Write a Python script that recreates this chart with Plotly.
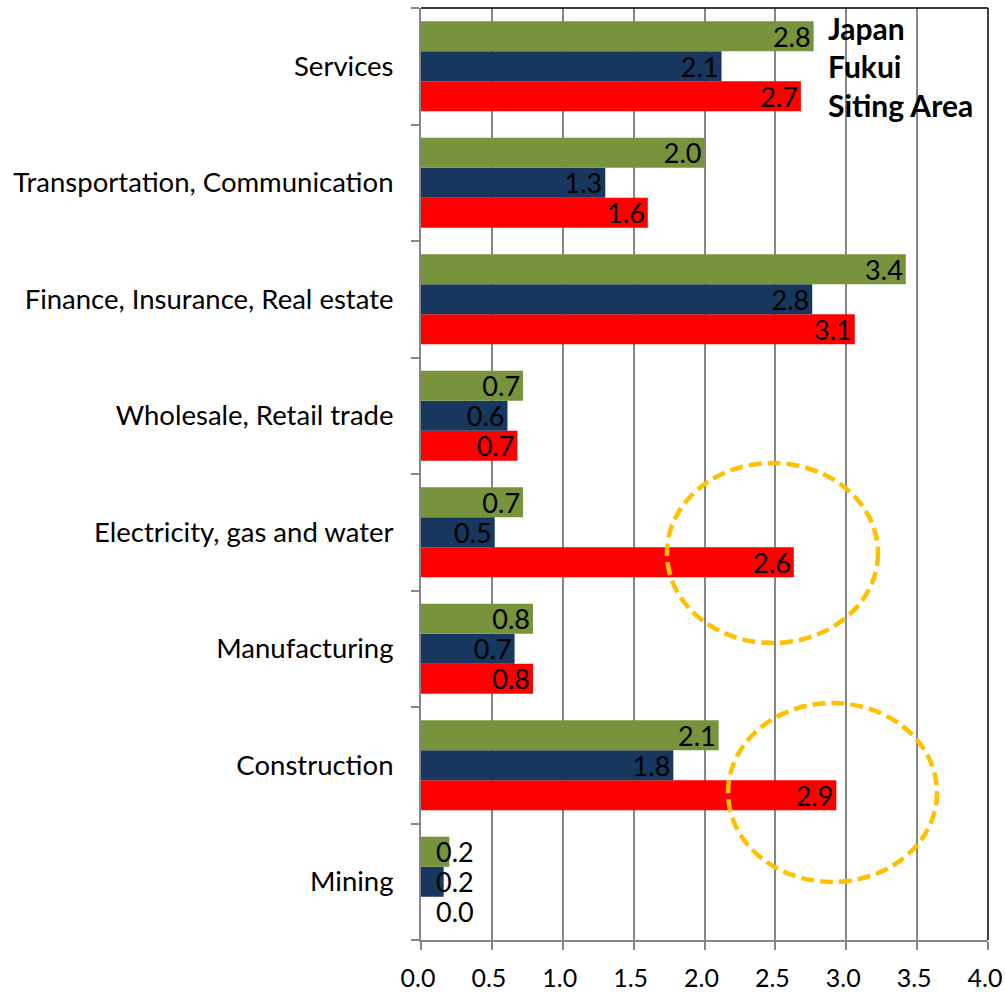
import plotly.graph_objects as go

# Industry categories, listed bottom to top on the y axis
categories = [
    "Mining",
    "Construction",
    "Manufacturing",
    "Electricity, gas and water",
    "Wholesale, Retail trade",
    "Finance, Insurance, Real estate",
    "Transportation, Communication",
    "Services",
]

# Specialisation coefficients per region
japan = [0.20, 2.10, 0.79, 0.72, 0.72, 3.42, 2.00, 2.77]
fukui = [0.16, 1.78, 0.66, 0.52, 0.61, 2.76, 1.30, 2.12]
siting_area = [0.00, 2.93, 0.79, 2.63, 0.68, 3.06, 1.60, 2.68]

series_names = ["Japan", "Fukui", "Siting Area"]
colors = {"Japan": "#77933C", "Fukui": "#17375E", "Siting Area": "#FF0000"}

x_ticks = [0.0, 0.5, 1.0, 1.5, 2.0, 2.5, 3.0, 3.5, 4.0]

FONT = "Lato, 'Open Sans', sans-serif"
LABEL_SIZE = 27

fig = go.Figure()

# Horizontal bars: the first trace sits lowest within each group.
# Bars too short to hold their label get the label drawn separately below.
series = [("Siting Area", siting_area, -30), ("Fukui", fukui, 0), ("Japan", japan, 30)]
for name, vals, offset in series:
    positions = ["none" if v < 0.3 else "inside" for v in vals]
    fig.add_trace(go.Bar(
        y=categories,
        x=vals,
        name=name,
        orientation="h",
        marker=dict(color=colors[name], line=dict(width=0)),
        text=[f"{v:.1f}" for v in vals],
        textposition=positions,
        insidetextanchor="end",
        constraintext="none",
        textfont=dict(family=FONT, size=LABEL_SIZE, color="black"),
        showlegend=False,
    ))
    for cat, v in zip(categories, vals):
        if v < 0.3:
            fig.add_annotation(x=0, y=cat, xref="x", yref="y", text=f"{v:.1f}",
                               showarrow=False, xanchor="left", yanchor="middle",
                               xshift=13, yshift=offset,
                               font=dict(family=FONT, size=LABEL_SIZE, color="black"))

# Dashed highlight ellipses around the Siting Area outliers
for x0, x1, y0, y1 in [(1.735, 3.224, 2.049, 3.594), (2.166, 3.640, -0.002, 1.534)]:
    fig.add_shape(type="circle", xref="x", yref="y", x0=x0, x1=x1, y0=y0, y1=y1,
                  line=dict(color="#FFC000", width=4.5, dash="13px,6px"), layer="above")

# Dark frame on the top and right edges of the plot area
fig.add_shape(type="line", xref="paper", yref="paper", x0=0, x1=1, y0=1, y1=1,
              line=dict(color="black", width=1.5))
fig.add_shape(type="line", xref="paper", yref="paper", x0=1, x1=1, y0=0, y1=1,
              line=dict(color="black", width=1.5))

# Text-only legend in the upper right
for i, name in enumerate(series_names):
    fig.add_annotation(x=(826 - 421) / (988 - 421), y=1 - (28 + i * 38.5 - 8) / 932,
                       xref="paper", yref="paper",
                       text=f"<b>{name}</b>", showarrow=False,
                       xanchor="left", yanchor="middle",
                       font=dict(family=FONT, size=30, color="black"))

fig.update_layout(
    width=1005,
    height=993,
    margin=dict(l=421, r=17, t=8, b=53),
    paper_bgcolor="white",
    plot_bgcolor="white",
    barmode="group",
    bargap=0.227,
    bargroupgap=0,
    font=dict(family=FONT, color="black"),
    xaxis=dict(
        range=[0, 4.0],
        tickvals=x_ticks,
        ticktext=[f"{v:.1f}" for v in x_ticks],
        showgrid=True,
        gridcolor="#868686",
        gridwidth=1.5,
        zeroline=False,
        showline=True,
        linecolor="#868686",
        linewidth=2,
        ticks="outside",
        ticklen=8,
        tickwidth=1.5,
        tickcolor="#868686",
        tickfont=dict(family=FONT, size=25, color="black"),
        ticklabelstandoff=7,
        ticklabelshift=-3,
        ticklabeloverflow="allow",
        automargin=False,
    ),
    yaxis=dict(
        type="category",
        categoryorder="array",
        categoryarray=categories,
        range=[-0.5, 7.5],
        showgrid=False,
        zeroline=False,
        showline=True,
        linecolor="#868686",
        linewidth=2,
        ticks="outside",
        tickson="boundaries",
        ticklen=8,
        tickwidth=1.5,
        tickcolor="#868686",
        tickfont=dict(family=FONT, size=27.5, color="black"),
        ticklabelstandoff=20,
        automargin=False,
    ),
)

fig.write_html("out.html")
